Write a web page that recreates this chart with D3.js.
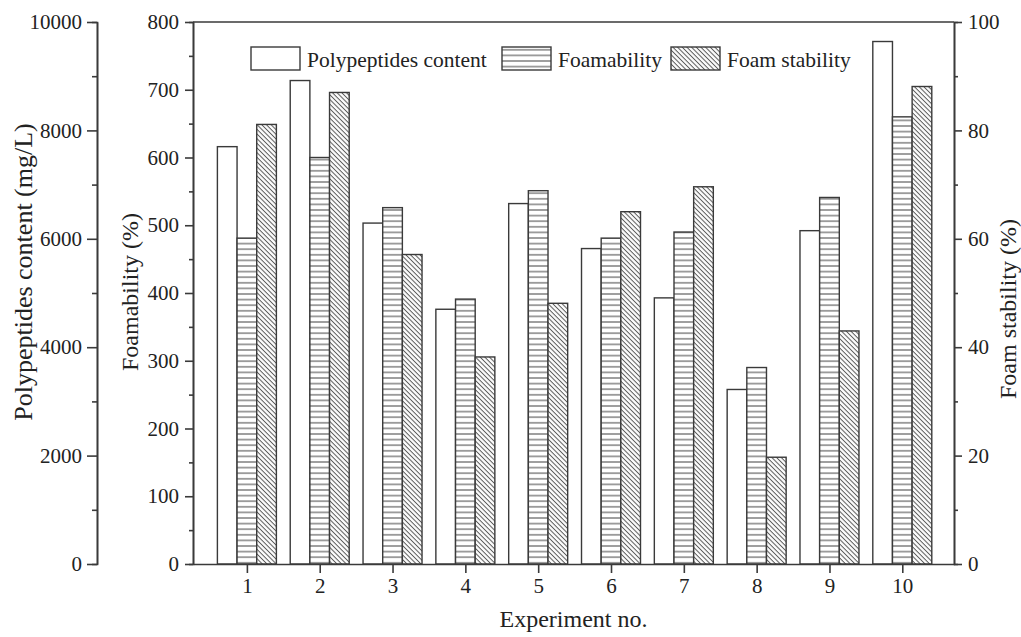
<!DOCTYPE html>
<html>
<head>
<meta charset="utf-8">
<script src="https://cdn.jsdelivr.net/npm/d3@7"></script>
<style>
    body { margin: 0; background: #fff; }
    svg { display: block; }
    text { font-family: "Liberation Serif", "Times New Roman", serif; fill: #222; }
</style>
</head>
<body>
<svg id="chart"></svg>
<script>
// values
var experiments = [1, 2, 3, 4, 5, 6, 7, 8, 9, 10]
var polypeptides = [7700, 8920, 6290, 4700, 6650, 5820, 4910, 3220, 6150, 9640]
var foamability = [481, 600, 526, 391, 551, 481, 490, 290, 541, 660]
var foamStability = [81.1, 87.0, 57.1, 38.2, 48.1, 65.0, 69.6, 19.7, 43.0, 88.1]

var ppTicks = [0, 2000, 4000, 6000, 8000, 10000]
var foamTicks = [0, 100, 200, 300, 400, 500, 600, 700, 800]
var stabTicks = [0, 20, 40, 60, 80, 100]

var legendLabels = ["Polypeptides content", "Foamability", "Foam stability"]

var dimensions = {
    width: 1021,
    height: 637,
    margin: {
        top: 22,
        bottom: 73,
        right: 67,
        left: 193
    },
    outerAxisX: 97
}

var stroke = "#3a3a3a"

var svg = d3.select("#chart")
    .attr("width", dimensions.width)
    .attr("height", dimensions.height)

var plotBottom = dimensions.height - dimensions.margin.bottom
var plotRight = dimensions.width - dimensions.margin.right

var xScale = d3.scaleLinear()
    .domain([0.26, 10.71])
    .range([dimensions.margin.left, plotRight])

var ppScale = d3.scaleLinear()
    .domain([0, 10000])
    .range([plotBottom, dimensions.margin.top])

var foamScale = d3.scaleLinear()
    .domain([0, 800])
    .range([plotBottom, dimensions.margin.top])

var stabScale = d3.scaleLinear()
    .domain([0, 100])
    .range([plotBottom, dimensions.margin.top])

// hatch patterns
var defs = svg.append("defs")

var hPat = defs.append("pattern")
    .attr("id", "hlines")
    .attr("patternUnits", "userSpaceOnUse")
    .attr("width", 8)
    .attr("height", 5.6)
hPat.append("rect").attr("width", 8).attr("height", 5.6).attr("fill", "#fff")
hPat.append("line")
    .attr("x1", 0).attr("x2", 8)
    .attr("y1", 2.8).attr("y2", 2.8)
    .attr("stroke", "#555")
    .attr("stroke-width", 1.1)

var dPat = defs.append("pattern")
    .attr("id", "dlines")
    .attr("patternUnits", "userSpaceOnUse")
    .attr("width", 3.3)
    .attr("height", 8)
    .attr("patternTransform", "rotate(-45)")
dPat.append("rect").attr("width", 3.3).attr("height", 8).attr("fill", "#fff")
dPat.append("line")
    .attr("x1", 1.2).attr("x2", 1.2)
    .attr("y1", 0).attr("y2", 8)
    .attr("stroke", "#555")
    .attr("stroke-width", 1)

var series = [
    { values: polypeptides, scale: ppScale, fill: "#fff", offset: -1 },
    { values: foamability, scale: foamScale, fill: "url(#hlines)", offset: 0 },
    { values: foamStability, scale: stabScale, fill: "url(#dlines)", offset: 1 }
]

var barWidth = (xScale(2) - xScale(1)) * 0.27

series.forEach(function (s) {
    svg.append("g")
        .selectAll("rect")
        .data(experiments)
        .enter()
        .append("rect")
        .attr("x", (d, i) => xScale(d) + (s.offset - 0.5) * barWidth)
        .attr("y", (d, i) => s.scale(s.values[i]))
        .attr("width", barWidth)
        .attr("height", (d, i) => plotBottom - s.scale(s.values[i]))
        .attr("fill", s.fill)
        .attr("stroke", stroke)
        .attr("stroke-width", 1.4)
})

// axes
function styleAxis(g) {
    g.selectAll("path").attr("stroke", stroke).attr("stroke-width", 1.6)
    g.selectAll("line").attr("stroke", stroke).attr("stroke-width", 1.6)
    g.selectAll("text").attr("font-size", "21px").attr("fill", "#222")
}

function minorTicks(major) {
    var out = []
    for (var i = 0; i < major.length - 1; i++) {
        out.push((major[i] + major[i + 1]) / 2)
    }
    return out
}

var plain = d3.format("d")

// bottom
svg.append("g")
    .attr("transform", "translate(0," + plotBottom + ")")
    .call(d3.axisBottom(xScale).tickValues(experiments).tickFormat(plain).tickSizeInner(9).tickSizeOuter(0).tickPadding(5))
    .call(styleAxis)

// top frame
svg.append("line")
    .attr("x1", dimensions.margin.left)
    .attr("x2", plotRight)
    .attr("y1", dimensions.margin.top)
    .attr("y2", dimensions.margin.top)
    .attr("stroke", stroke)
    .attr("stroke-width", 1.6)

// inner left: foamability
svg.append("g")
    .attr("transform", "translate(" + dimensions.margin.left + ",0)")
    .call(d3.axisLeft(foamScale).tickValues(minorTicks(foamTicks)).tickSize(4).tickFormat(""))
    .call(styleAxis)
svg.append("g")
    .attr("transform", "translate(" + dimensions.margin.left + ",0)")
    .call(d3.axisLeft(foamScale).tickValues(foamTicks).tickFormat(plain).tickSizeInner(8).tickSizeOuter(0).tickPadding(6))
    .call(styleAxis)

// outer left: polypeptides
svg.append("g")
    .attr("transform", "translate(" + dimensions.outerAxisX + ",0)")
    .call(d3.axisLeft(ppScale).tickValues(minorTicks(ppTicks)).tickSize(5).tickFormat(""))
    .call(styleAxis)
svg.append("g")
    .attr("transform", "translate(" + dimensions.outerAxisX + ",0)")
    .call(d3.axisLeft(ppScale).tickValues(ppTicks).tickFormat(plain).tickSizeInner(10).tickSizeOuter(0).tickPadding(5))
    .call(styleAxis)

// right: foam stability
svg.append("g")
    .attr("transform", "translate(" + plotRight + ",0)")
    .call(d3.axisRight(stabScale).tickValues(minorTicks(stabTicks)).tickSize(4).tickFormat(""))
    .call(styleAxis)
svg.append("g")
    .attr("transform", "translate(" + plotRight + ",0)")
    .call(d3.axisRight(stabScale).tickValues(stabTicks).tickFormat(plain).tickSizeInner(8).tickSizeOuter(0).tickPadding(6))
    .call(styleAxis)

// axis titles
var midY = (dimensions.margin.top + plotBottom) / 2

svg.append("text")
    .attr("transform", "translate(32," + 272 + ") rotate(-90)")
    .attr("text-anchor", "middle")
    .attr("font-size", "26px")
    .text("Polypeptides content (mg/L)")

svg.append("text")
    .attr("transform", "translate(138," + 292 + ") rotate(-90)")
    .attr("text-anchor", "middle")
    .attr("font-size", "24px")
    .text("Foamability (%)")

svg.append("text")
    .attr("transform", "translate(1016," + (midY + 16) + ") rotate(-90)")
    .attr("text-anchor", "middle")
    .attr("font-size", "24px")
    .text("Foam stability (%)")

svg.append("text")
    .attr("x", (dimensions.margin.left + plotRight) / 2)
    .attr("y", 627)
    .attr("text-anchor", "middle")
    .attr("font-size", "24px")
    .text("Experiment no.")

// legend
var legendX = [251, 502, 671]
var legendFills = ["#fff", "url(#hlines)", "url(#dlines)"]

var legend = svg.append("g")
    .selectAll("g")
    .data(legendLabels)
    .enter()
    .append("g")
    .attr("transform", (d, i) => "translate(" + legendX[i] + ",47)")

legend.append("rect")
    .attr("width", 49)
    .attr("height", 23)
    .attr("fill", (d, i) => legendFills[i])
    .attr("stroke", stroke)
    .attr("stroke-width", 1.4)

legend.append("text")
    .attr("x", 56)
    .attr("y", 20)
    .attr("font-size", "21.5px")
    .text(d => d)
</script>
</body>
</html>
